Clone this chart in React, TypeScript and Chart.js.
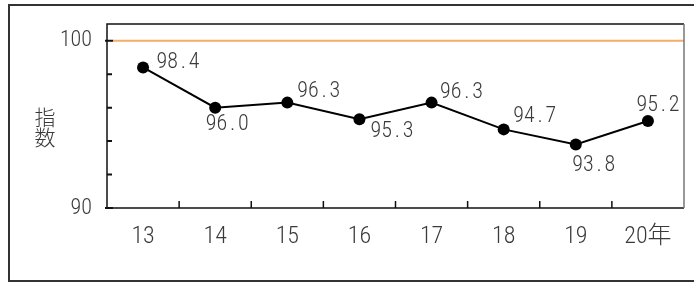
import React, { useEffect, useRef } from 'react';
import { Chart, registerables } from 'chart.js';

Chart.register(...registerables);

const categories = ['13', '14', '15', '16', '17', '18', '19', '20年'];
const indexValues = [98.4, 96.0, 96.3, 95.3, 96.3, 94.7, 93.8, 95.2];
const yTickValues = [90, 92, 94, 96, 98, 100];
const yLabeledTicks = [90, 100];
const referenceLevel = 100;
const axisTitleChars = ['指', '数'];
// label placement (style): offset of each value label from its point
const labelOffsets: [number, number][] = [
  [35, -4.5], [12, 17], [31.5, -11.5], [32.5, 12], [30, -10], [31, -12.5], [18, 21], [10, -16],
];

const FONT = '"Roboto Condensed", "Noto Sans CJK JP", sans-serif';
const TEXT = '#3a3a3a';

const decor = {
  id: 'decor',
  beforeDraw(chart: any) {
    const { ctx } = chart;
    ctx.save();
    ctx.strokeStyle = '#333';
    ctx.lineWidth = 2;
    ctx.beginPath();
    ctx.moveTo(700, 5);
    ctx.lineTo(9, 5);
    ctx.lineTo(9, 281);
    ctx.lineTo(700, 281);
    ctx.stroke();
    // axis title
    ctx.fillStyle = TEXT;
    ctx.font = '300 21px "Noto Sans CJK JP", sans-serif';
    ctx.textAlign = 'center';
    ctx.textBaseline = 'middle';
    axisTitleChars.forEach((c, i) => ctx.fillText(c, 45, 117 + i * 20.5));
    ctx.restore();
  },
  beforeDatasetsDraw(chart: any) {
    const { ctx, chartArea: a, scales } = chart;
    const x = scales.x;
    const y = scales.y;
    ctx.save();
    // reference line
    const yr = y.getPixelForValue(referenceLevel);
    ctx.strokeStyle = '#F5AD68';
    ctx.lineWidth = 2;
    ctx.beginPath();
    ctx.moveTo(a.left + 6, yr);
    ctx.lineTo(a.right, yr);
    ctx.stroke();
    // frame
    ctx.lineWidth = 1.5;
    ctx.strokeStyle = '#111';
    ctx.beginPath();
    ctx.moveTo(a.right, a.top);
    ctx.lineTo(a.left, a.top);
    ctx.lineTo(a.left, a.bottom);
    ctx.lineTo(a.right, a.bottom);
    ctx.stroke();
    ctx.strokeStyle = '#777';
    ctx.beginPath();
    ctx.moveTo(a.right, a.top);
    ctx.lineTo(a.right, a.bottom);
    ctx.stroke();
    // x ticks between categories, inward
    ctx.strokeStyle = '#111';
    ctx.beginPath();
    for (let i = 1; i < categories.length; i++) {
      const xb = (x.getPixelForValue(i - 1) + x.getPixelForValue(i)) / 2;
      ctx.moveTo(xb, a.bottom);
      ctx.lineTo(xb, a.bottom - 7);
    }
    ctx.stroke();
    // y ticks
    ctx.lineWidth = 2;
    ctx.beginPath();
    yTickValues.forEach((v) => {
      const py = y.getPixelForValue(v);
      if (yLabeledTicks.includes(v)) {
        ctx.moveTo(a.left - 2, py);
        ctx.lineTo(a.left + 6, py);
      } else {
        ctx.moveTo(a.left, py);
        ctx.lineTo(a.left + 5, py);
      }
    });
    ctx.stroke();
    ctx.restore();
  },
  afterDatasetsDraw(chart: any) {
    const { ctx } = chart;
    const meta = chart.getDatasetMeta(0);
    ctx.save();
    ctx.fillStyle = TEXT;
    ctx.font = `300 22px ${FONT}`;
    ctx.textAlign = 'center';
    ctx.textBaseline = 'middle';
    const cell = 10.75;
    meta.data.forEach((el: any, i: number) => {
      const text = indexValues[i].toFixed(1);
      const [dx, dy] = labelOffsets[i];
      const start = el.x + dx - (text.length * cell) / 2;
      for (let k = 0; k < text.length; k++) {
        ctx.fillText(text[k], start + cell * (k + 0.5), el.y + dy);
      }
    });
    ctx.restore();
  },
};

export default function App() {
  const ref = useRef<HTMLCanvasElement | null>(null);
  useEffect(() => {
    if (!ref.current) return;
    const chart = new Chart(ref.current, {
      type: 'line',
      data: {
        labels: categories,
        datasets: [
          {
            data: indexValues,
            borderColor: '#000',
            borderWidth: 2,
            pointRadius: 6,
            pointBackgroundColor: '#000',
            pointBorderWidth: 0,
            tension: 0,
          },
        ],
      },
      options: {
        animation: false,
        responsive: false,
        maintainAspectRatio: false,
        layout: { padding: { left: 0, right: 10, top: 24, bottom: 0 } },
        plugins: { legend: { display: false }, tooltip: { enabled: false } },
        scales: {
          x: {
            type: 'category',
            offset: true,
            grid: { display: false, drawTicks: false },
            border: { display: false },
            ticks: { color: TEXT, font: { family: FONT, size: 24, weight: '300' }, padding: 15, maxRotation: 0, autoSkip: false },
            afterFit(s: any) {
              s.height = 75;
              s.paddingLeft = 0;
              s.paddingRight = 0;
              s.paddingTop = 0;
              s.paddingBottom = 0;
            },
          },
          y: {
            min: 90,
            max: 101,
            grid: { display: false, drawTicks: false },
            border: { display: false },
            afterBuildTicks(s: any) { s.ticks = yTickValues.map((v) => ({ value: v })); },
            ticks: {
              color: TEXT,
              font: { family: FONT, size: 22, weight: '300' },
              padding: 15,
              autoSkip: false,
              callback: (v: any) => (yLabeledTicks.includes(Number(v)) ? String(v) : ''),
            },
            afterFit(s: any) {
              s.width = 107;
              s.paddingTop = 0;
              s.paddingBottom = 0;
              s.paddingLeft = 0;
              s.paddingRight = 0;
            },
          },
        },
      },
      plugins: [decor],
    });
    return () => chart.destroy();
  }, []);
  return (
    <div style={{ position: 'fixed', left: 0, top: 0, width: 694, height: 283 }}>
      <canvas ref={ref} width={694} height={283} style={{ width: 694, height: 283, display: 'block' }} />
    </div>
  );
}
